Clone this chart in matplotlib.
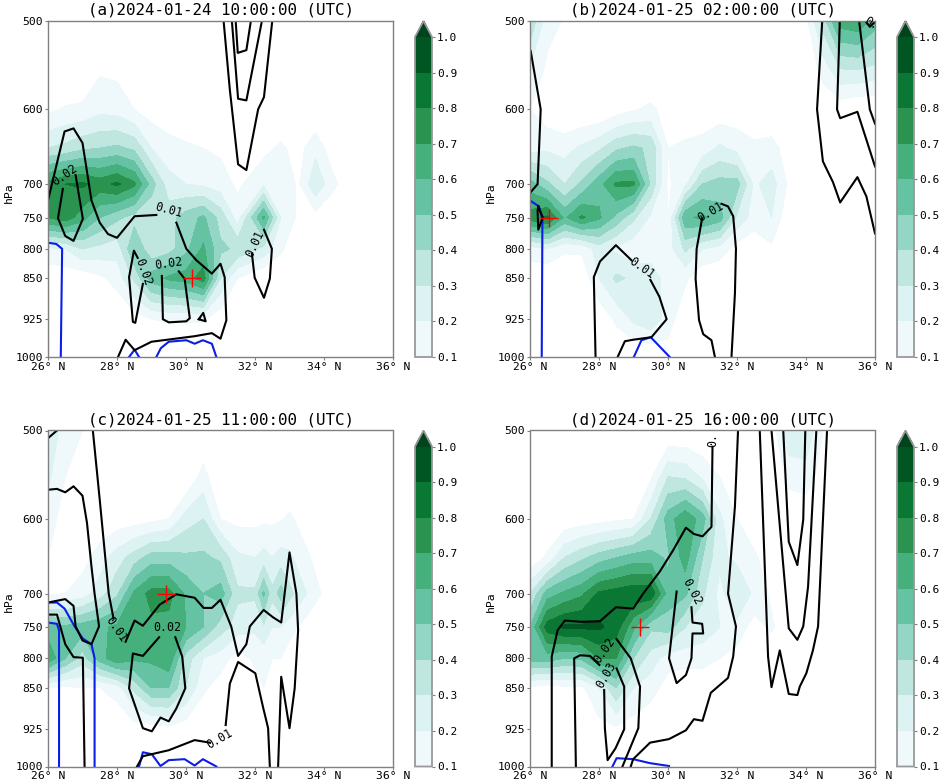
import numpy as np
import matplotlib
matplotlib.use('Agg')
import matplotlib.pyplot as plt
from matplotlib.ticker import NullFormatter, NullLocator

plt.rcParams['font.family'] = ['DejaVu Sans Mono']

levs = [500, 550, 600, 650, 700, 750, 800, 850, 925, 1000]
lat_tick = [26, 28, 30, 32, 34, 36]
lat_lab = ['26° N', '28° N', '30° N', '32° N', '34° N', '36° N']
p_tick = [500, 600, 700, 750, 800, 850, 925, 1000]
cf_lev = [0.1, 0.2, 0.3, 0.4, 0.5, 0.6, 0.7, 0.8, 0.9, 1.0]

base = [26, 26.5, 27, 27.5, 28, 28.5, 29, 29.5, 30, 30.5, 31, 31.5]
lat_a = base + [32.25, 32.75, 33.25, 33.75, 34.25, 34.75, 36]
lat_b = base + [32, 32.5, 33, 33.5, 34, 34.5, 35, 35.5, 36]
lat_c = base + [32, 32.25, 32.5, 32.75, 33, 33.5, 34, 34.5, 36]
lat_d = lat_b

rh_a = [
    [0]*19,
    [0, 0, 0, .08, .07] + [0]*14,
    [.08, .11, .12, .17, .16, .1, .05, .03, 0, 0, 0, 0, 0, 0, 0, 0, 0, 0, 0],
    [.3, .33, .38, .4, .42, .38, .2, .14, .12, .1, .08, .02, .07, .12, .06, .17, .04, 0, 0],
    [.74, .8, .82, .76, .82, .72, .45, .24, .2, .18, .15, .08, .18, .2, .08, .28, .13, .03, 0],
    [.7, .76, .64, .5, .42, .36, .3, .36, .45, .52, .36, .15, .62, .2, .08, .06, 0, 0, 0],
    [.18, .2, .3, .27, .24, .5, .32, .36, .47, .62, .42, .38, .27, .12, 0, 0, 0, 0, 0],
    [.02, .03, .03, .08, .14, .32, .55, .62, .65, .75, .3, .1, 0, 0, 0, 0, 0, 0, 0],
    [0, 0, 0, 0, 0, .05, .1, .11, .11, .11, .03, 0, 0, 0, 0, 0, 0, 0, 0],
    [0]*19,
]
rh_b = [
    [.38, .14, .09, 0, 0, 0, 0, 0, 0, 0, 0, 0, 0, 0, 0, 0, .07, .35, .65, .68, .55],
    [.2, .08, 0, 0, 0, 0, 0, 0, 0, 0, 0, 0, 0, 0, 0, 0, 0, .15, .31, .32, .28],
    [.1, .03, 0, 0, 0, .05, .09, .12, .06, .03, .03, .03, .03, .03, .03, 0, 0, .02, .03, 0, 0],
    [.15, .18, .16, .22, .28, .38, .42, .38, .1, .12, .14, .22, .17, .12, .13, .06, 0, 0, 0, 0, 0],
    [.55, .42, .3, .42, .56, .72, .72, .38, .08, .18, .4, .44, .44, .18, .25, .08, 0, 0, 0, 0, 0],
    [.75, .82, .58, .72, .62, .47, .32, .18, .1, .58, .62, .55, .28, .15, .2, .02, 0, 0, 0, 0, 0],
    [.15, .2, .12, .12, .25, .18, .13, .1, .15, .32, .2, .16, .05, .03, .08, 0, 0, 0, 0, 0, 0],
    [.03, 0, 0, .02, .2, .32, .28, .3, .12, .12, .02, 0, 0, 0, 0, 0, 0, 0, 0, 0, 0],
    [0, 0, 0, 0, .02, .12, .22, .28, .15, .02, 0, 0, 0, 0, 0, 0, 0, 0, 0, 0, 0],
    [0, 0, 0, 0, 0, 0, 0, 0, .05, 0, 0, 0, 0, 0, 0, 0, 0, 0, 0, 0, 0],
]
rh_c = [
    [.25, .17, .1] + [0]*18,
    [.22, .1, .02, 0, 0, 0, 0, 0, 0, .14, 0, 0, 0, 0, 0, 0, 0, 0, 0, 0, 0],
    [.15, .05, 0, .02, .04, .05, .07, .1, .25, .3, .1, .07, .07, .08, .08, .09, .12, .04, 0, 0, 0],
    [.1, .03, .06, .15, .25, .35, .45, .45, .42, .42, .38, .22, .2, .24, .2, .24, .22, .12, .03, 0, 0],
    [.08, .1, .15, .25, .38, .62, .74, .74, .58, .5, .55, .32, .32, .52, .33, .45, .33, .2, .08, 0, 0],
    [.55, .52, .55, .58, .62, .65, .67, .66, .6, .5, .35, .25, .22, .28, .2, .2, .15, .05, 0, 0, 0],
    [.68, .5, .35, .55, .68, .62, .62, .68, .35, .2, .15, .05, .12, .13, .1, .1, .03, 0, 0, 0, 0],
    [.1, .08, .1, .1, .15, .33, .5, .5, .3, .12, .05, 0, .05, .1, .02, 0, 0, 0, 0, 0, 0],
    [0, 0, 0, 0, 0, .05, .05, .07, .04, 0, 0, 0, 0, 0, 0, 0, 0, 0, 0, 0, 0],
    [0]*21,
]
rh_d = [
    [.08, 0, 0, 0, 0, 0, 0, 0, 0, 0, 0, 0, 0, 0, .04, .28, .28, .1, 0, 0, 0],
    [0, 0, 0, 0, 0, 0, 0, .08, .3, .28, .18, .1, .02, 0, 0, .13, .15, .05, 0, 0, 0],
    [0, 0, .02, .04, .06, .08, .1, .3, .55, .68, .55, .22, .1, .02, 0, .02, .03, 0, 0, 0, 0],
    [.02, .12, .3, .38, .45, .5, .55, .55, .48, .65, .4, .22, .18, .12, .03, 0, 0, 0, 0, 0, 0],
    [.3, .55, .62, .68, .82, .85, .88, .88, .55, .52, .32, .17, .28, .18, .08, 0, 0, 0, 0, 0, 0],
    [.5, .85, .92, .92, .92, .85, .62, .42, .45, .3, .25, .2, .17, .05, .12, 0, 0, 0, 0, 0, 0],
    [.55, .55, .5, .52, .7, .7, .4, .25, .15, .15, .15, .1, .05, 0, 0, 0, 0, 0, 0, 0, 0],
    [.08, .05, .08, .08, .2, .4, .2, .15, .05, 0, 0, 0, 0, 0, 0, 0, 0, 0, 0, 0, 0],
    [0, 0, 0, 0, .06, .08, .05, 0, 0, 0, 0, 0, 0, 0, 0, 0, 0, 0, 0, 0, 0],
    [0]*21,
]

# isolines: (lat list, pressure list)
black_a = [
    ([31.09, 31.27, 31.51, 31.75, 32.09, 32.26, 32.5], [500, 576, 672, 680, 600, 585, 500]),
    ([31.33, 31.51, 31.75, 32.2], [500, 587, 589, 500]),
    ([31.44, 31.5, 31.75, 31.88], [500, 534, 531, 500]),
    ([26, 26.48, 26.74, 27.0, 27.26, 27.5, 27.74, 28.0, 28.51, 29.14],
     [724, 628, 624, 643, 724, 758, 776, 782, 748, 746]),
    ([29.72, 30.01, 30.3, 30.75, 31.0, 31.12, 31.17, 31.0, 30.75, 30.25, 29.0, 28.51, 28.25, 28.03],
     [758, 800, 819, 842, 825, 848, 927, 963, 952, 958, 969, 986, 965, 1000]),
    ([26.43, 26.29, 26.5, 26.74, 27.01, 26.8], [707, 751, 779, 787, 752, 687]),
    ([28.75, 28.53, 28.46, 28.35, 28.49, 28.6], [860, 932, 930, 848, 803, 815]),
    ([29.3, 29.33, 29.5, 30.01, 30.11, 29.96, 29.79], [846, 925, 931, 929, 923, 851, 838]),
    ([30.37, 30.5, 30.57, 30.37], [925, 913, 929, 925]),
    ([31.91, 31.99, 32.26, 32.43, 32.49, 32.26], [808, 849, 885, 851, 800, 769]),
]
blue_a = [
    ([26, 26, 26.24, 26.41, 26.37], [1000, 790, 792, 800, 1000]),
    ([28.35, 28.51, 28.64], [1000, 985, 1000]),
    ([29.14, 29.27, 29.5, 30.01, 30.25, 30.49, 30.75, 30.88], [1000, 982, 969, 966, 973, 966, 973, 1000]),
]
black_b = [
    ([26.02, 26.31, 26.22, 26], [532, 600, 700, 713]),
    ([26.24, 26.37, 26.24, 26.22, 26.24], [733, 750, 769, 740, 733]),
    ([27.9, 27.85, 28.03, 28.49, 28.94], [1000, 848, 821, 794, 819]),
    ([29.49, 29.75, 29.96, 29.52, 28.99, 28.75, 28.54], [853, 883, 925, 960, 965, 968, 1000]),
    ([31.36, 31.26, 31.02, 30.9, 30.8, 30.83, 30.99], [1000, 966, 954, 927, 851, 800, 751]),
    ([31.55, 31.74, 31.89, 31.97, 31.94, 31.84], [729, 733, 748, 800, 877, 1000]),
    ([34.47, 34.32, 34.49, 34.78, 34.99, 35.49, 35.75, 36], [500, 600, 668, 697, 727, 690, 718, 775]),
    ([34.98, 34.9, 34.99, 35.49, 36], [500, 600, 611, 603, 675]),
    ([35.54, 35.85, 36], [500, 600, 618]),
    ([35.72, 35.85, 36], [500, 506, 501]),
]
blue_b = [
    ([26, 26.26, 26.36, 26.34], [724, 733, 753, 1000]),
    ([29.01, 29.23, 29.5, 30.05], [1000, 966, 960, 1000]),
]
black_c = [
    ([26, 26.26], [508, 500]),
    ([27.3, 27.5, 27.76, 27.9], [500, 577, 700, 737]),
    ([28.25, 28.51, 28.75, 29.24, 29.72, 30.25, 30.51, 30.75, 31.0, 31.31, 31.51, 31.75, 31.85,
      32.25, 32.52, 32.76, 33.0, 33.2, 33.25, 33.15, 33.0, 32.76, 32.67],
     [773, 740, 748, 716, 701, 706, 721, 721, 709, 749, 796, 777, 749, 724, 735, 743, 643, 700,
      755, 851, 924, 831, 1000]),
    ([26, 26.26, 26.5, 26.74, 27.0, 27.13, 27.26, 27.35, 27.48, 27.26, 27.0, 26.8, 26.74, 26.5, 26],
     [565, 564, 568, 561, 572, 605, 662, 700, 749, 777, 771, 749, 718, 708, 713]),
    ([26, 26.26, 26.5, 26.74, 27.01, 27.06], [731, 731, 777, 798, 799, 1000]),
    ([29.22, 28.75, 28.46, 28.35, 28.75, 29.01, 29.26, 29.5, 29.72, 29.98, 29.89, 29.69],
     [766, 796, 792, 851, 924, 930, 904, 911, 887, 851, 797, 766]),
    ([28.58, 28.75, 29.5, 30.25, 30.69], [1000, 979, 967, 947, 952]),
    ([31.15, 31.27, 31.51, 32.01, 32.23, 32.38, 32.43], [918, 843, 806, 825, 884, 924, 1000]),
]
blue_c = [
    ([26, 26.26, 26.32, 26.32], [743, 745, 755, 1000]),
    ([26, 26.26, 26.48, 26.77, 27.01, 27.26, 27.35, 27.35], [713, 713, 722, 749, 768, 777, 800, 1000]),
    ([28.64, 28.75, 29.01, 29.26, 29.5, 29.96, 30.25, 30.49, 30.88], [1000, 971, 975, 999, 987, 985, 998, 985, 1000]),
]
black_d = [
    ([26.63, 26.63, 26.8, 27.01, 27.5, 28.03, 28.49, 28.99, 29.28, 29.76, 30.15, 30.52, 30.75, 31.0,
      31.26, 31.29],
     [1000, 797, 755, 740, 742, 741, 720, 722, 700, 669, 640, 611, 619, 622, 610, 517]),
    ([27.33, 27.28, 27.45, 27.74, 28.01], [1000, 800, 795, 796, 811]),
    ([28.51, 28.92, 29.19, 29.14, 28.68], [769, 800, 848, 924, 1000]),
    ([28.15, 28.17, 28.25, 28.48, 28.73, 28.73, 28.51], [854, 924, 987, 963, 926, 848, 817]),
    ([28.92, 28.99, 29.48, 30.03, 30.52, 30.75, 31.0, 31.24, 31.74, 31.89, 31.97, 31.74, 31.94, 32.03],
     [1000, 985, 952, 945, 928, 907, 910, 859, 833, 797, 749, 700, 585, 500]),
    ([30.25, 30.03, 30.25, 30.52, 30.68, 30.71, 31.02, 30.99, 30.71, 30.68],
     [697, 800, 842, 828, 800, 760, 760, 745, 743, 720]),
    ([32.66, 32.9, 33.0, 33.24, 33.5, 33.75, 33.82, 34.01, 34.2, 34.35, 34.61],
     [500, 797, 849, 787, 861, 863, 848, 825, 787, 749, 500]),
    ([33.0, 33.5, 33.75, 33.92, 34.06, 34.3], [500, 752, 770, 749, 690, 500]),
    ([33.34, 33.5, 33.75, 33.92, 33.98], [500, 629, 660, 601, 500]),
]
blue_d = [
    ([28.39, 28.51, 28.99, 29.47, 30.03], [1000, 983, 985, 993, 999]),
]

# label text, lat, pressure, rotation
labels_a = [('0.01', 29.5, 739, -15), ('0.02', 26.48, 687, 35), ('0.02', 28.75, 839, -70),
            ('0.02', 29.5, 824, 8), ('0.01', 31.99, 791, 65)]
labels_b = [('0.01', 29.25, 832, -35), ('0.01', 31.23, 741, 30), ('0.', 35.9, 503, -30)]
labels_c = [('0.01', 27.98, 754, -55), ('0.02', 29.47, 750, 0), ('0.01', 30.97, 944, 30)]
labels_d = [('0.', 31.29, 510, 90), ('0.02', 28.17, 787, 55), ('0.03', 28.22, 828, 60),
            ('0.02', 30.68, 698, -62)]

titles = ['(a)2024-01-24 10:00:00 (UTC)', '(b)2024-01-25 02:00:00 (UTC)',
          '(c)2024-01-25 11:00:00 (UTC)', '(d)2024-01-25 16:00:00 (UTC)']
marks = [(30.18, 850), (26.54, 750), (29.43, 700), (29.2, 750)]

W, H = 941, 783
GRAY = '#808080'


def box(x0, y0, x1, y1):
    return [x0/W, 1-y1/H, (x1-x0)/W, (y1-y0)/H]


def panel(x0, y0, lat, rh, black, blue, labels, title, mark):
    ax = fig.add_axes(box(x0, y0, x0+345, y0+336))
    ax.set_yscale('log')
    cf = ax.contourf(lat, levs, np.array(rh), levels=cf_lev, cmap='BuGn', extend='max')
    for x, y in blue:
        ax.plot(x, y, color='#0a1ee6', lw=1.5, solid_joinstyle='round')
    for x, y in black:
        ax.plot(x, y, color='k', lw=1.5, solid_joinstyle='round')
    for s, x, y, r in labels:
        ax.text(x, y, s, fontsize=8.4, rotation=r, ha='center', va='center', rotation_mode='anchor')
    ax.plot(*mark, marker='+', color='r', ms=13, mew=1.0, ls='')
    ax.set_xlim(26, 36)
    ax.set_ylim(1000, 500)
    ax.set_xticks(lat_tick)
    ax.set_xticklabels(lat_lab)
    ax.set_yticks(p_tick)
    ax.set_yticklabels([str(p) for p in p_tick])
    ax.yaxis.set_minor_locator(NullLocator())
    ax.yaxis.set_minor_formatter(NullFormatter())
    ax.tick_params(labelsize=8.2, length=2.5, width=0.8, color=GRAY, pad=1)
    for s in ax.spines.values():
        s.set_color(GRAY)
        s.set_linewidth(1.0)
    ax.set_ylabel('hPa', fontsize=8.2)
    ax.yaxis.set_label_coords(-34/345, 0.49)
    ax.set_title(title, fontsize=11.4, pad=4.5)

    cax = fig.add_axes(box(x0+367, y0, x0+384, y0+336))
    cb = fig.colorbar(cf, cax=cax, ticks=cf_lev, extend='max', extendfrac=0.05)
    cb.ax.set_yticklabels(['%.1f' % v for v in cf_lev])
    cb.ax.tick_params(labelsize=8.0, length=2, width=0.8, color=GRAY, pad=1.5)
    cb.outline.set_edgecolor('#999999')
    cb.outline.set_linewidth(1.3)


fig = plt.figure(figsize=(W/100, H/100), dpi=100)
panel(48, 21, lat_a, rh_a, black_a, blue_a, labels_a, titles[0], marks[0])
panel(530, 21, lat_b, rh_b, black_b, blue_b, labels_b, titles[1], marks[1])
panel(48, 430.5, lat_c, rh_c, black_c, blue_c, labels_c, titles[2], marks[2])
panel(530, 430.5, lat_d, rh_d, black_d, blue_d, labels_d, titles[3], marks[3])
fig.savefig('out.png', dpi=100)
